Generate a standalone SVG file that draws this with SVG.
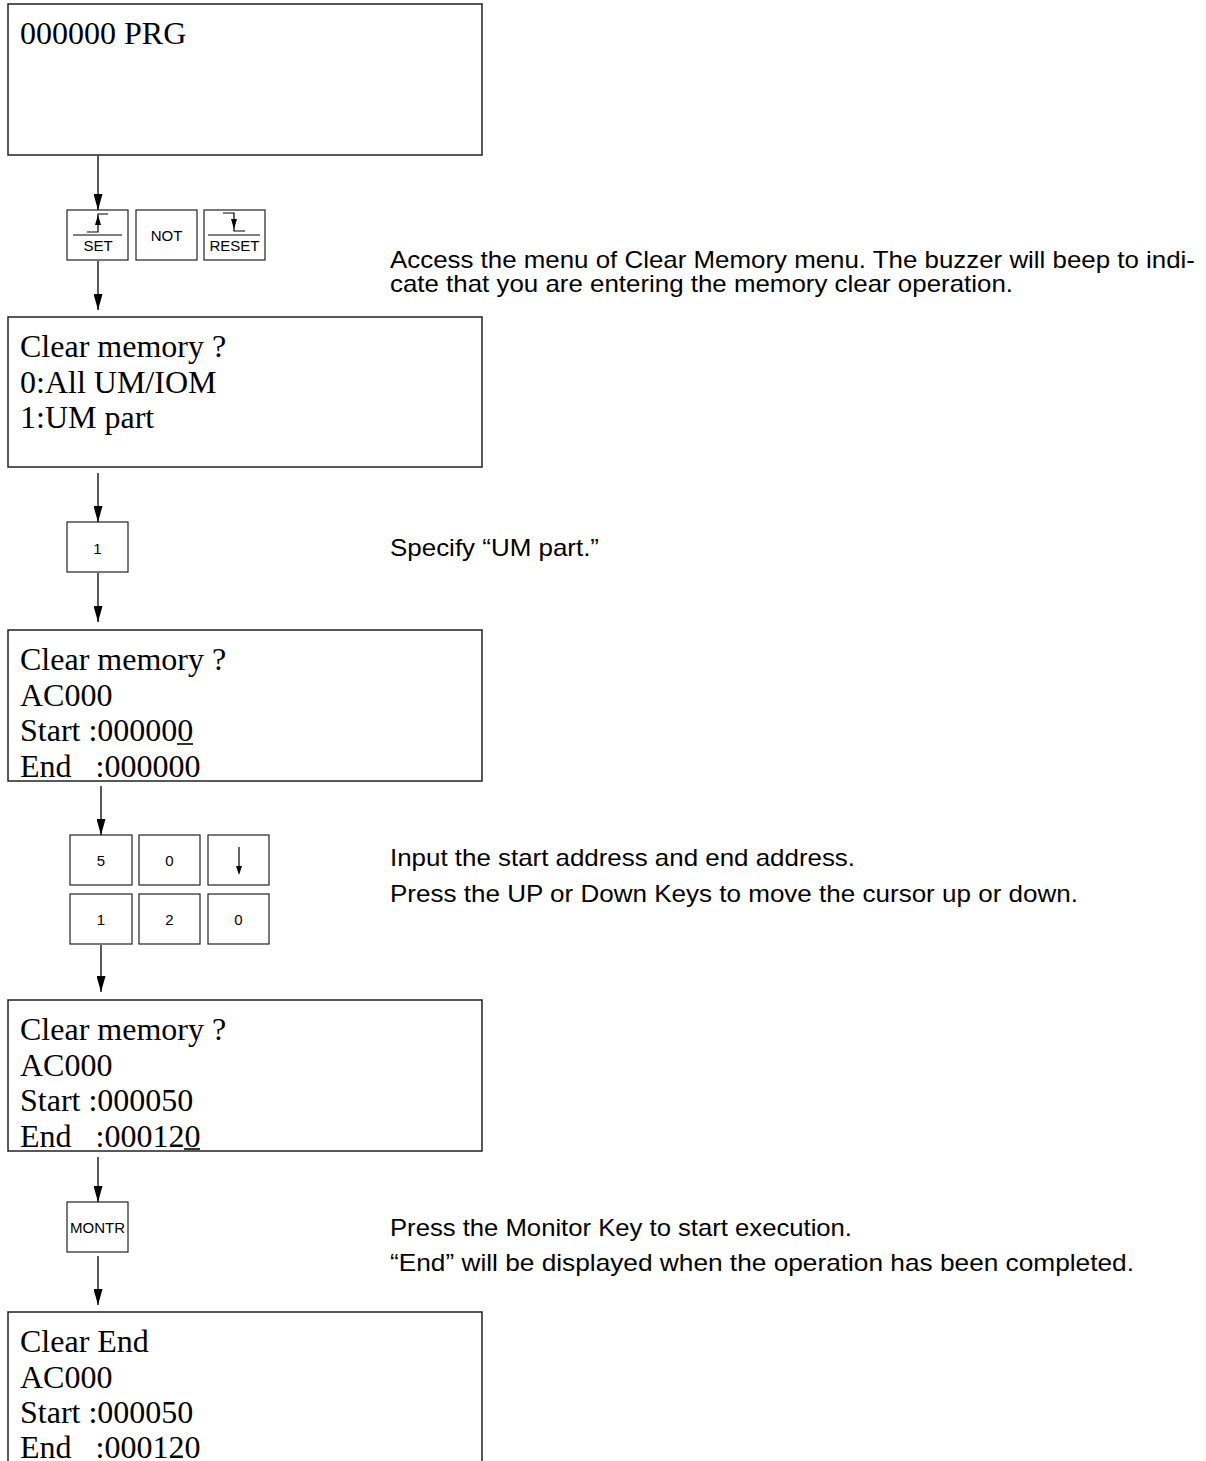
<svg xmlns="http://www.w3.org/2000/svg" width="1206" height="1461" viewBox="0 0 1206 1461">
<defs>
<marker id="ah" markerUnits="userSpaceOnUse" markerWidth="16" markerHeight="9" refX="16" refY="4.5" orient="auto">
<path d="M0,0 L16,4.5 L0,9 z" fill="#000"/>
</marker>
</defs>
<style>
.disp{fill:#fff;stroke:#222;stroke-width:1.5}
.dt{font-family:"Liberation Serif","Times New Roman",serif;font-size:32px;fill:#000}
.key{fill:#fff;stroke:#222;stroke-width:1.2}
.kt{font-family:"Liberation Sans",Arial,sans-serif;font-size:15px;fill:#000;text-anchor:middle}
.note{font-family:"Liberation Sans",Arial,sans-serif;font-size:24px;fill:#000}
.conn{stroke:#000;stroke-width:1.3;fill:none;marker-end:url(#ah)}
.thin{stroke:#000;stroke-width:1.2;fill:none}
</style>
<rect width="1206" height="1461" fill="#fff"/>

<g id="display1">
<rect class="disp" x="8" y="4" width="474" height="151"/>
<text class="dt" x="20" y="44">000000 PRG</text>
</g>

<g id="keys-set-not-reset">
<rect class="key" x="67" y="210" width="61" height="50"/>
<line class="thin" x1="73" y1="235" x2="122" y2="235"/>
<path class="thin" d="M87,232 H98 V214 H108"/>
<polygon points="98,215 95,225 101,225" fill="#000"/>
<text class="kt" x="98" y="251">SET</text>
<rect class="key" x="136" y="210" width="61" height="50"/>
<text class="kt" x="166.5" y="241">NOT</text>
<rect class="key" x="204" y="210" width="61" height="50"/>
<line class="thin" x1="208" y1="235" x2="260" y2="235"/>
<path class="thin" d="M223,213 H234 V231 H245"/>
<polygon points="234,229 231,219 237,219" fill="#000"/>
<text class="kt" x="234.5" y="251">RESET</text>
</g>

<g id="note1">
<text class="note" x="390" y="268" textLength="805" lengthAdjust="spacingAndGlyphs">Access the menu of Clear Memory menu. The buzzer will beep to indi-</text>
<text class="note" x="390" y="292" textLength="623" lengthAdjust="spacingAndGlyphs">cate that you are entering the memory clear operation.</text>
</g>

<g id="display2">
<rect class="disp" x="8" y="317" width="474" height="150"/>
<text class="dt" x="20" y="357">Clear memory ?</text>
<text class="dt" x="20" y="392.5">0:All UM/IOM</text>
<text class="dt" x="20" y="428">1:UM part</text>
</g>

<g id="key-1">
<rect class="key" x="67" y="522" width="61" height="50"/>
<text class="kt" x="97.5" y="554">1</text>
</g>

<g id="note2">
<text class="note" x="390" y="556" textLength="209" lengthAdjust="spacingAndGlyphs">Specify “UM part.”</text>
</g>

<g id="display3">
<rect class="disp" x="8" y="630" width="474" height="151"/>
<text class="dt" x="20" y="670">Clear memory ?</text>
<text class="dt" x="20" y="705.5">AC000</text>
<text class="dt" x="20" y="741">Start :000000</text>
<line x1="177" y1="744" x2="193" y2="744" stroke="#000" stroke-width="1.6"/>
<text class="dt" x="20" y="776.5" xml:space="preserve">End   :000000</text>
</g>

<g id="keys-address">
<rect class="key" x="70" y="835" width="62" height="50"/>
<text class="kt" x="101" y="866">5</text>
<rect class="key" x="139" y="835" width="61" height="50"/>
<text class="kt" x="169.5" y="866">0</text>
<rect class="key" x="208" y="835" width="61" height="50"/>
<line class="thin" x1="239" y1="847" x2="239" y2="868"/>
<polygon points="239,875 236,866 242,866" fill="#000"/>
<rect class="key" x="70" y="894" width="62" height="50"/>
<text class="kt" x="101" y="925">1</text>
<rect class="key" x="139" y="894" width="61" height="50"/>
<text class="kt" x="169.5" y="925">2</text>
<rect class="key" x="208" y="894" width="61" height="50"/>
<text class="kt" x="238.5" y="925">0</text>
</g>

<g id="note3">
<text class="note" x="390" y="866" textLength="465" lengthAdjust="spacingAndGlyphs">Input the start address and end address.</text>
<text class="note" x="390" y="902" textLength="688" lengthAdjust="spacingAndGlyphs">Press the UP or Down Keys to move the cursor up or down.</text>
</g>

<g id="display4">
<rect class="disp" x="8" y="1000" width="474" height="151"/>
<text class="dt" x="20" y="1040">Clear memory ?</text>
<text class="dt" x="20" y="1075.5">AC000</text>
<text class="dt" x="20" y="1111">Start :000050</text>
<text class="dt" x="20" y="1146.5" xml:space="preserve">End   :000120</text>
<line x1="184" y1="1149" x2="200" y2="1149" stroke="#000" stroke-width="1.6"/>
</g>

<g id="key-montr">
<rect class="key" x="67" y="1202" width="61" height="50"/>
<text class="kt" x="97.5" y="1233">MONTR</text>
</g>

<g id="note4">
<text class="note" x="390" y="1236" textLength="462" lengthAdjust="spacingAndGlyphs">Press the Monitor Key to start execution.</text>
<text class="note" x="390" y="1271" textLength="744" lengthAdjust="spacingAndGlyphs">“End” will be displayed when the operation has been completed.</text>
</g>

<g id="display5">
<rect class="disp" x="8" y="1312" width="474" height="170"/>
<text class="dt" x="20" y="1352">Clear End</text>
<text class="dt" x="20" y="1387.5">AC000</text>
<text class="dt" x="20" y="1423">Start :000050</text>
<text class="dt" x="20" y="1458" xml:space="preserve">End   :000120</text>
</g>

<g id="connectors">
<line class="conn" x1="98" y1="156" x2="98" y2="210"/>
<line class="conn" x1="98" y1="261" x2="98" y2="310"/>
<line class="conn" x1="98" y1="473" x2="98" y2="522"/>
<line class="conn" x1="98" y1="573" x2="98" y2="622"/>
<line class="conn" x1="101" y1="786" x2="101" y2="835"/>
<line class="conn" x1="101" y1="945" x2="101" y2="992"/>
<line class="conn" x1="98" y1="1157" x2="98" y2="1202"/>
<line class="conn" x1="98" y1="1256" x2="98" y2="1305"/>
</g>
</svg>
